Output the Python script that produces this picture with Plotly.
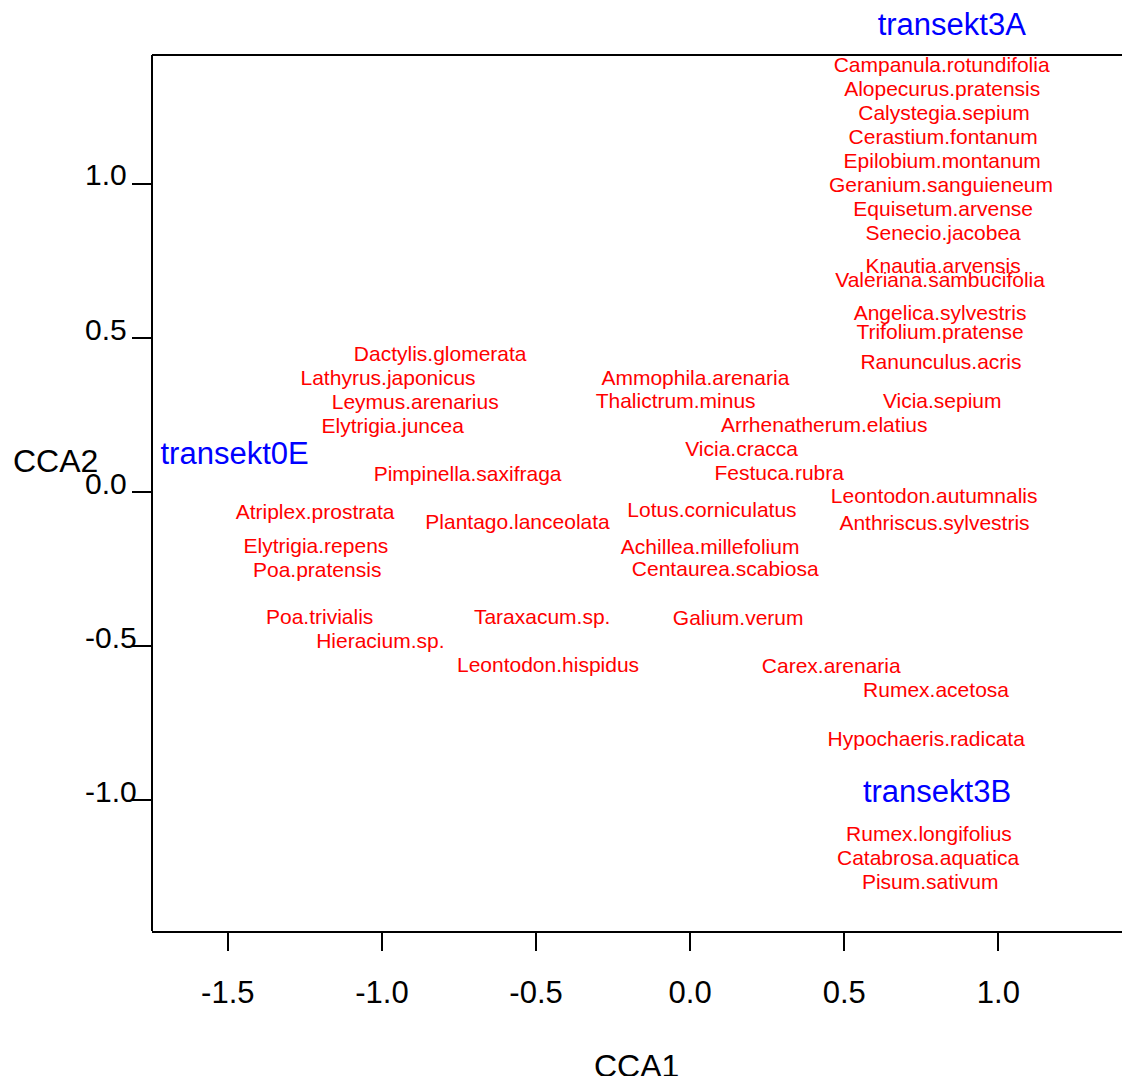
import plotly.graph_objects as go

# Species scores (CCA1, CCA2)
species = [
    "Campanula.rotundifolia", "Alopecurus.pratensis", "Calystegia.sepium",
    "Cerastium.fontanum", "Epilobium.montanum", "Geranium.sanguieneum",
    "Equisetum.arvense", "Senecio.jacobea", "Knautia.arvensis",
    "Valeriana.sambucifolia", "Angelica.sylvestris", "Trifolium.pratense",
    "Ranunculus.acris", "Vicia.sepium", "Leontodon.autumnalis",
    "Anthriscus.sylvestris", "Rumex.acetosa", "Hypochaeris.radicata",
    "Rumex.longifolius", "Catabrosa.aquatica", "Pisum.sativum",
    "Ammophila.arenaria", "Thalictrum.minus", "Arrhenatherum.elatius",
    "Vicia.cracca", "Festuca.rubra", "Lotus.corniculatus",
    "Achillea.millefolium", "Centaurea.scabiosa", "Galium.verum",
    "Carex.arenaria", "Dactylis.glomerata", "Lathyrus.japonicus",
    "Leymus.arenarius", "Elytrigia.juncea", "Pimpinella.saxifraga",
    "Atriplex.prostrata", "Plantago.lanceolata", "Elytrigia.repens",
    "Poa.pratensis", "Poa.trivialis", "Hieracium.sp.", "Taraxacum.sp.",
    "Leontodon.hispidus",
]
cca1 = [
    0.816, 0.818, 0.824,
    0.821, 0.818, 0.814,
    0.821, 0.821, 0.821,
    0.811, 0.811, 0.811,
    0.814, 0.818, 0.792,
    0.793, 0.798, 0.766,
    0.775, 0.772, 0.779,
    0.017, -0.047, 0.435,
    0.167, 0.289, 0.071,
    0.065, 0.114, 0.156,
    0.458, -0.811, -0.980,
    -0.892, -0.965, -0.722,
    -1.217, -0.560, -1.214,
    -1.210, -1.202, -1.005, -0.480,
    -0.461,
]
cca2 = [
    1.380, 1.302, 1.224,
    1.146, 1.068, 0.991,
    0.913, 0.835, 0.728,
    0.684, 0.576, 0.514,
    0.417, 0.290, -0.018,
    -0.106, -0.647, -0.806,
    -1.115, -1.193, -1.270,
    0.366, 0.290, 0.212,
    0.134, 0.057, -0.062,
    -0.183, -0.256, -0.414,
    -0.569, 0.444, 0.366,
    0.288, 0.210, 0.053,
    -0.069, -0.102, -0.180,
    -0.258, -0.412, -0.489, -0.412,
    -0.567,
]

# Site scores
sites = ["transekt3A", "transekt0E", "transekt3B"]
site_cca1 = [0.849, -1.478, 0.801]
site_cca2 = [1.509, 0.115, -0.981]

x_ticks = [-1.5, -1.0, -0.5, 0.0, 0.5, 1.0]
y_ticks = [-1.0, -0.5, 0.0, 0.5, 1.0]

FONT = "Liberation Sans, Arial, sans-serif"

# The page body has an 8px margin; the figure is sized to sit inside it.
OFF = 8
W, H = 1130 - OFF, 1076 - OFF
L = 152 - OFF
T = 0
B = H - (931 - OFF)
pw = W - L
ph = H - T - B
PX_PER_X = 308.2
PX_PER_Y = 308.3
xmin = -1.746
xmax = xmin + pw / PX_PER_X
FRAME_TOP = 1.418          # top edge of the drawn frame (data units)
ymin = FRAME_TOP - (931 - 55) / PX_PER_Y
ymax = ymin + ph / PX_PER_Y  # axis extends above the frame so site labels fit


def px_x(p):
    return (p - OFF - L) / pw


def px_y(p):
    return (H - B - (p - OFF)) / ph


fig = go.Figure()
fig.add_trace(go.Scatter(
    x=cca1, y=cca2, text=species, mode="text",
    textposition="middle center",
    textfont=dict(family=FONT, size=21, color="#ff0000"),
    cliponaxis=False, hoverinfo="text", showlegend=False,
))
fig.add_trace(go.Scatter(
    x=site_cca1, y=site_cca2, text=sites, mode="text",
    textposition="middle center",
    textfont=dict(family=FONT, size=31, color="#0000ff"),
    cliponaxis=False, hoverinfo="text", showlegend=False,
))

annotations = []
for v in y_ticks:
    annotations.append(dict(
        text=f"{v:.1f}", x=px_x(83), y=v, xref="paper", yref="y",
        xanchor="left", yanchor="middle", yshift=9, showarrow=False,
        font=dict(size=30, family=FONT, color="black"),
    ))
annotations.append(dict(
    text="CCA1", x=px_x(636), y=px_y(1066), xref="paper", yref="paper",
    xanchor="center", yanchor="middle", showarrow=False,
    font=dict(size=32, family=FONT, color="black")))
annotations.append(dict(
    text="CCA2", x=px_x(55), y=px_y(461), xref="paper", yref="paper",
    xanchor="center", yanchor="middle", showarrow=False,
    font=dict(size=32, family=FONT, color="black")))

shapes = [
    # top edge of the frame
    dict(type="line", xref="paper", yref="y", x0=0, x1=1,
         y0=FRAME_TOP, y1=FRAME_TOP, line=dict(color="black", width=2)),
    # left edge of the frame
    dict(type="line", xref="paper", yref="y", x0=0, x1=0,
         y0=ymin, y1=FRAME_TOP, line=dict(color="black", width=2)),
]

fig.update_layout(
    width=W, height=H,
    margin=dict(l=L, r=0, t=T, b=B, pad=0),
    paper_bgcolor="white", plot_bgcolor="white",
    font=dict(family=FONT, color="black"),
    xaxis=dict(
        range=[xmin, xmax], tickvals=x_ticks,
        ticktext=[f"{v:.1f}" for v in x_ticks],
        showgrid=False, zeroline=False,
        showline=True, linecolor="black", linewidth=2, mirror=False,
        ticks="outside", ticklen=18, tickwidth=1.5, tickcolor="black",
        tickfont=dict(size=31, family=FONT, color="black"),
        ticklabelstandoff=15,
    ),
    yaxis=dict(
        range=[ymin, ymax], tickvals=y_ticks,
        showticklabels=False,
        showgrid=False, zeroline=False,
        showline=False,
        ticks="outside", ticklen=19, tickwidth=1.5, tickcolor="black",
    ),
    annotations=annotations,
    shapes=shapes,
)

fig.write_html("out.html")
